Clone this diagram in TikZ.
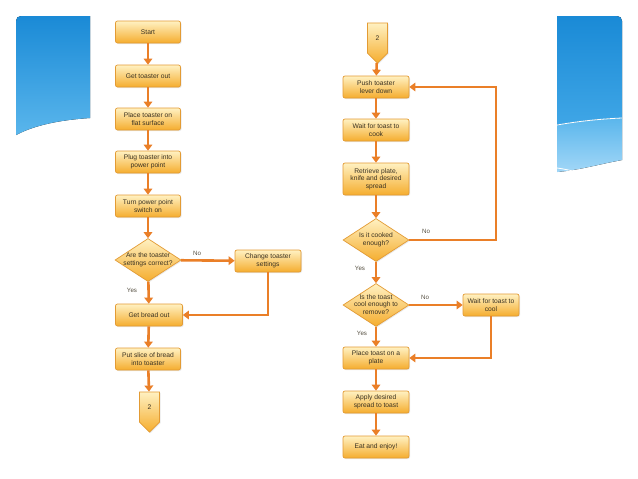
\documentclass[tikz,border=0pt]{standalone}
\usepackage{fontspec}
\setmainfont{Liberation Sans}
\usetikzlibrary{arrows.meta,shapes.geometric,shapes.symbols,shadows}
\definecolor{boxtop}{HTML}{FFF1C2}
\definecolor{boxbot}{HTML}{F5AD2E}
\definecolor{boxdraw}{HTML}{E39B34}
\definecolor{arrcol}{HTML}{EA7F28}
\definecolor{txtcol}{HTML}{3A3222}
\definecolor{bluetop}{HTML}{1A8AD6}
\definecolor{bluemid}{HTML}{3FA6E6}
\definecolor{bluelow}{HTML}{5AB6EC}
\definecolor{bluebot}{HTML}{A2D7F7}
\newcommand{\dtext}[1]{\raisebox{-0.3em}[0pt][0pt]{\makebox[0pt]{\begin{tabular}{@{}c@{}}#1\end{tabular}}}}
\begin{document}
\begin{tikzpicture}[x=1pt,y=-1pt,
  boxfont/.style={font=\fontsize{6.7}{7.6}\selectfont, text=txtcol},
  stepbox/.style={rectangle, rounded corners=2pt, draw=boxdraw, line width=0.7pt,
    top color=boxtop, bottom color=boxbot, minimum width=65pt, minimum height=22pt,
    inner sep=1pt, align=center, boxfont,
    drop shadow={shadow xshift=1pt,shadow yshift=-1pt,opacity=0.18}},
  decbox/.style={diamond, draw=boxdraw, line width=0.7pt, top color=boxtop, bottom color=boxbot,
    minimum width=66pt, minimum height=43pt, inner sep=0pt, boxfont,
    drop shadow={shadow xshift=1pt,shadow yshift=-1pt,opacity=0.18}},
  connbox/.style={signal, signal to=south, draw=boxdraw, line width=0.7pt, top color=boxtop, bottom color=boxbot,
    minimum width=20pt, minimum height=32pt, inner sep=0pt, boxfont,
    drop shadow={shadow xshift=1pt,shadow yshift=-1pt,opacity=0.18}},
  arr/.style={draw=arrcol, line width=2.6pt, -{Triangle[length=6pt,width=8.5pt]}},
  lbl/.style={font=\fontsize{6.2}{7}\selectfont, text=txtcol!85}
]
\useasboundingbox[fill=white] (0,0) rectangle (638,479);

% decorations
\fill[top color=bluetop, bottom color=bluelow] (90,118) -- (90,16) -- (21,16) .. controls (18,16) and (16,18) .. (16,21) -- (16,135) .. controls (35,125) and (60,120) .. (90,118) -- cycle;
\fill[top color=bluetop, bottom color=bluemid] (557,125) -- (557,16) -- (617,16) .. controls (620,16) and (622,18) .. (622,21) -- (622,118) .. controls (600,119) and (580,121) .. (557,125) -- cycle;
\fill[top color=bluelow, bottom color=bluebot] (557,125) .. controls (580,121) and (600,119) .. (622,118) -- (622,160) .. controls (600,164) and (580,170) .. (557,172) -- cycle;
\draw[white, line width=0.8pt] (557,125) .. controls (580,121) and (600,119) .. (622,118);
\draw[white, line width=0.8pt] (557,168) .. controls (565,169) and (572,171) .. (578,172);

% left column
\node[stepbox] (start) at (148,32) {Start};
\node[stepbox] (get) at (148,76) {Get toaster out};
\node[stepbox] (place) at (148,119) {Place toaster on\\flat surface};
\node[stepbox] (plug) at (148,162) {Plug toaster into\\power point};
\node[stepbox] (turn) at (148,206) {Turn power point\\switch on};
\node[decbox] (d1) at (148,260) {\dtext{Are the toaster\\settings correct?}};
\node[stepbox, minimum width=66pt] (change) at (268,261) {Change toaster\\settings};
\node[stepbox, minimum width=67pt] (bread) at (149,315) {Get bread out};
\node[stepbox] (slice) at (148,359) {Put slice of bread\\into toaster};
\node[connbox] (c1) at (149.5,407) {2};

% right column
\node[connbox] (c2) at (377.5,38) {2};
\node[stepbox, minimum width=66pt] (push) at (376,87) {Push toaster\\lever down};
\node[stepbox, minimum width=66pt] (cook) at (376,130) {Wait for toast to\\cook};
\node[stepbox, minimum width=66pt, minimum height=32pt] (retr) at (376,179) {Retrieve plate,\\knife and desired\\spread};
\node[decbox] (d2) at (376,240) {\dtext{Is it cooked\\enough?}};
\node[decbox] (d3) at (376,305) {\dtext{Is the toast\\cool enough to\\remove?}};
\node[stepbox, minimum width=56pt] (wcool) at (491,305) {Wait for toast to\\cool};
\node[stepbox, minimum width=66pt] (plate) at (376,358) {Place toast on a\\plate};
\node[stepbox, minimum width=66pt] (apply) at (376,402) {Apply desired\\spread to toast};
\node[stepbox, minimum width=66pt] (eat) at (376,447) {Eat and enjoy!};

\coordinate (k1) at (496,240);

% connectors left
\draw[arr] (start) -- (get);
\draw[arr] (get) -- (place);
\draw[arr] (place) -- (plug);
\draw[arr] (plug) -- (turn);
\draw[arr] (turn) -- (d1);
\draw[arr] (d1) -- (change);
\draw[arr] (d1) -- (bread);
\draw[arr] (change.south) |- (bread.east);
\draw[arr] (bread) -- (slice);
\draw[arr] (slice) -- (c1);

% connectors right
\draw[arr] (c2) -- (push);
\draw[arr] (push) -- (cook);
\draw[arr] (cook) -- (retr);
\draw[arr] (retr) -- (d2);
\draw[arr] (d2.east) -- (k1) |- (push.east);
\draw[arr] (d2) -- (d3);
\draw[arr] (d3) -- (wcool);
\draw[arr] (d3) -- (plate);
\draw[arr] (wcool.south) |- (plate.east);
\draw[arr] (plate) -- (apply);
\draw[arr] (apply) -- (eat);

% labels
\node[lbl] (n1) at (197,253) {No};
\node[lbl] (y1) at (132,290) {Yes};
\node[lbl] (n2) at (426,231) {No};
\node[lbl] (y2) at (360,268) {Yes};
\node[lbl] (n3) at (425,297) {No};
\node[lbl] (y3) at (362,333) {Yes};
\end{tikzpicture}
\end{document}
